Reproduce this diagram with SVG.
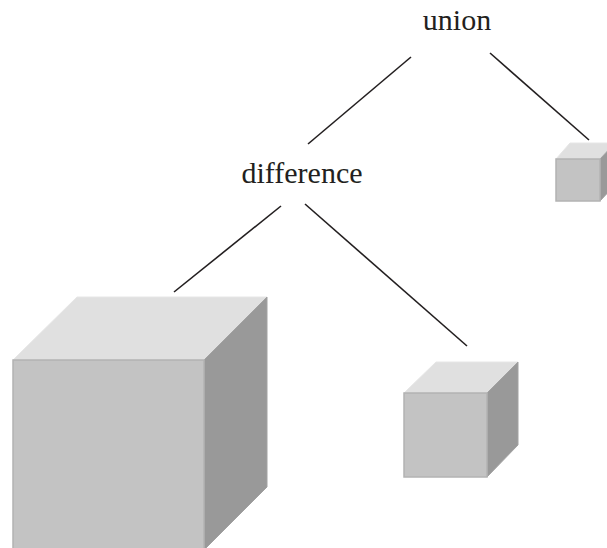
<svg xmlns="http://www.w3.org/2000/svg" width="607" height="548" viewBox="0 0 607 548">
  <style>
    .label { font-family: "Liberation Serif", "Times New Roman", serif; font-size: 30px; fill: #231f20; text-anchor: middle; }
    .edge { stroke: #231f20; stroke-width: 1.6; fill: none; }
    .top { fill: #e0e0e0; stroke: #e6e6e6; stroke-width: 1; }
    .front { fill: #c3c3c3; stroke: #b3b3b3; stroke-width: 1.5; }
    .side { fill: #999999; stroke: #a2a2a2; stroke-width: 1; }
  </style>
  <rect width="607" height="548" fill="#ffffff"/>

  <!-- tree connectors -->
  <g id="connectors">
    <line class="edge" x1="411" y1="57" x2="308" y2="144"/>
    <line class="edge" x1="490" y1="53" x2="589" y2="140"/>
    <line class="edge" x1="281" y1="206" x2="174" y2="292"/>
    <line class="edge" x1="305" y1="204" x2="467" y2="346"/>
  </g>

  <g id="union">
    <text class="label" x="457" y="30">union</text>
  </g>

  <g id="difference">
    <text class="label" x="302" y="183">difference</text>
  </g>

  <!-- large cube -->
  <g id="cube-large">
    <polygon class="top" points="13,360 77,297 267,297 204,360"/>
    <polygon class="side" points="204,360 267,297 267,487 204,550"/>
    <rect class="front" x="13" y="360" width="191" height="190"/>
  </g>

  <!-- medium cube -->
  <g id="cube-medium">
    <polygon class="top" points="404,393 436,362 518,362 487,393"/>
    <polygon class="side" points="487,393 518,362 518,445 487,477"/>
    <rect class="front" x="404" y="393" width="83" height="84"/>
  </g>

  <!-- small cube -->
  <g id="cube-small">
    <polygon class="top" points="556,159 570,143 615,143 600,159"/>
    <polygon class="side" points="600,159 615,143 615,185 600,201"/>
    <rect class="front" x="556" y="159" width="44" height="42"/>
  </g>
</svg>
